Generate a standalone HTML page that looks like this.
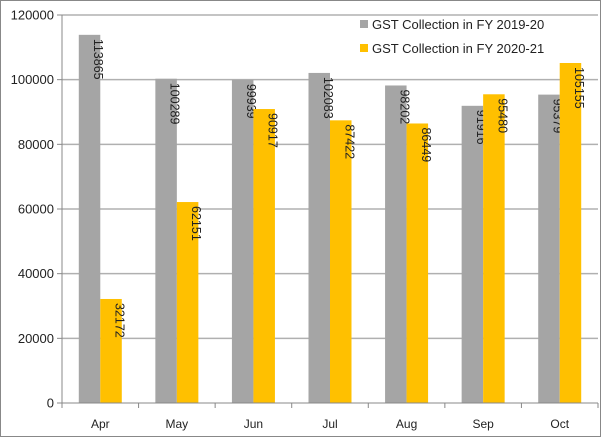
<!DOCTYPE html>
<html><head><meta charset="utf-8"><style>
body{margin:0;background:#fff}
svg{display:block;font-family:"Liberation Sans",sans-serif}
</style></head><body>
<svg width="603" height="437" xmlns="http://www.w3.org/2000/svg">
<rect x="0.5" y="0.5" width="600" height="436" fill="#fff" stroke="#888"/>
<g id="grid"></g><g id="bars"></g><g id="axes"></g>
<g>
<rect x="360" y="20" width="8" height="8" fill="#a5a5a5"/>
<text x="372" y="29" font-size="13" fill="#222">GST Collection in FY 2019-20</text>
<rect x="360" y="44" width="8" height="8" fill="#ffc000"/>
<text x="372" y="53" font-size="13" fill="#222">GST Collection in FY 2020-21</text>
</g>
</svg>
<script>
const categories=["Apr","May","Jun","Jul","Aug","Sep","Oct"];
const fy1920=[113865,100289,99939,102083,98202,91916,95379];
const fy2021=[32172,62151,90917,87422,86449,95480,105155];
const yTicks=[0,20000,40000,60000,80000,100000,120000];
const NS="http://www.w3.org/2000/svg";
const x0=62,x1=598,y0=403,y1=15,yMax=120000;
const cw=(x1-x0)/categories.length;
const yS=v=>y0-(v/yMax)*(y0-y1);
function mk(t,a,p){const e=document.createElementNS(NS,t);for(const k in a)e.setAttribute(k,a[k]);p.appendChild(e);return e;}
const grid=document.getElementById('grid'),bars=document.getElementById('bars'),axes=document.getElementById('axes');
yTicks.forEach(v=>{
 const y=yS(v);
 if(v>0){const l=mk('line',{x1:x0,x2:x1,y1:y,y2:y,stroke:'#b0b0b0','stroke-width':1.5},grid);
 
 }
 mk('line',{x1:x0-5,x2:x0,y1:y,y2:y,stroke:'#888'},axes);
 const t=mk('text',{x:x0-8,y:y+4.5,'font-size':13,'text-anchor':'end',fill:'#222'},axes);
 t.textContent=v;
 
 
});
mk('line',{x1:x0,x2:x0,y1:y1,y2:y0+5,stroke:'#888'},axes);
mk('line',{x1:x0,x2:x1,y1:y0,y2:y0,stroke:'#888'},axes);
const bw=21.5;
categories.forEach((c,i)=>{
 const cx=x0+cw*i;
 mk('line',{x1:cx+cw,x2:cx+cw,y1:y0,y2:y0+5,stroke:'#888'},axes);
 const t=mk('text',{x:cx+cw/2,y:y0+25,'font-size':12,'text-anchor':'middle',fill:'#222'},axes);
 t.textContent=c;
 
 
 [[fy1920[i],'#a5a5a5',0,'bar-2019'],[fy2021[i],'#ffc000',1,'bar-2020']].forEach(([v,col,k,n])=>{
  const bx=cx+cw/2-bw+k*bw, by=yS(v);
  const r=mk('rect',{x:bx,y:by,width:bw,height:y0-by,fill:col},bars);
  
  
  const tx=bx+bw/2+4.5, ty=by+4;
  const lb=mk('text',{x:tx,y:ty,'font-size':12.5,fill:'#222',transform:`rotate(90 ${tx} ${ty})`},bars);
  lb.textContent=v;
  
  
 });
});
</script>
</body></html>
